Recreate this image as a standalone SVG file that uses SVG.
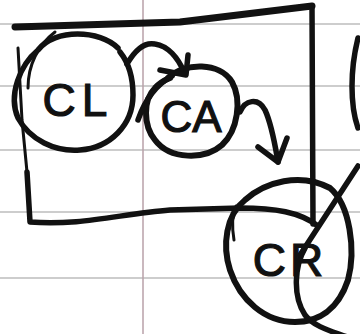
<svg xmlns="http://www.w3.org/2000/svg" width="360" height="334" viewBox="0 0 360 334">
<style>
.rule{stroke:#bdbdbd;stroke-width:1.5;fill:none}
.margin{stroke:#b8a0a8;stroke-width:1.5;fill:none}
.ink{stroke:#111;stroke-width:5.5;fill:none;stroke-linecap:round;stroke-linejoin:round}
.thin{stroke:#111;stroke-width:3;fill:none;stroke-linecap:round;stroke-linejoin:round}
.lbl{font-family:"Liberation Sans","DejaVu Sans",sans-serif;fill:#111;stroke:#111;stroke-width:1.2;text-anchor:middle}
</style>
<rect width="360" height="334" fill="#fff"/>
<g id="paper">
<line class="rule" x1="0" y1="24" x2="360" y2="24"/>
<line class="rule" x1="0" y1="86" x2="360" y2="86"/>
<line class="rule" x1="0" y1="150" x2="360" y2="150"/>
<line class="rule" x1="0" y1="212" x2="360" y2="212"/>
<line class="rule" x1="0" y1="278" x2="360" y2="278"/>
<line class="margin" x1="143" y1="0" x2="143" y2="334"/>
</g>
<g id="frame">
<path class="ink" d="M15,27 L180,22 L312,6" style="stroke-width:7"/>
<path class="ink" d="M312,6 L313,224"/>
<path class="thin" d="M18,48 L22,120 L27,172"/>
<path class="ink" d="M27,172 L30,222 C80,226 120,214 170,210 L240,208 C275,208 300,212 318,226"/>
<path class="ink" d="M358,38 C350,70 350,105 358,128"/>
</g>
<g id="CL">
<path class="ink" d="M118,48 C100,30 55,28 38,50 C20,65 8,95 18,118 C30,140 55,152 80,150 C110,148 133,125 133,95 C133,75 128,62 120,52"/>
<path class="thin" d="M55,32 C38,45 28,65 28,88"/>
<text class="lbl" x="78" y="116" font-size="46" letter-spacing="6">CL</text>
</g>
<g id="CA">
<path class="ink" d="M168,78 C185,62 220,62 232,82 C242,100 238,130 222,145 C205,160 170,160 155,140 C143,125 143,100 155,88 C160,82 165,80 170,78" style="stroke-width:6"/>
<path class="ink" d="M138,120 C145,100 155,85 172,76"/>
<text class="lbl" x="191" y="132" font-size="44">CA</text>
</g>
<g id="CR">
<path class="ink" d="M245,200 C265,182 300,172 330,188 C350,205 356,250 348,280 C338,310 318,322 295,322 C265,322 240,300 230,270 C222,245 226,215 245,200" style="stroke-width:6"/>
<path class="thin" d="M236,206 C232,215 232,228 234,240"/>
<path class="ink" d="M305,248 C295,265 292,295 305,315 C315,328 335,332 350,338"/>
<path class="ink" d="M358,166 L300,255"/>
<text class="lbl" x="290" y="276" font-size="46" letter-spacing="4">CR</text>
</g>
<g id="connectors">
<path class="ink" d="M127,64 C135,50 145,42 155,44 C168,46 178,58 184,72"/>
<path class="ink" d="M160,70 L186,75 L188,55"/>
<path class="ink" d="M240,112 C245,100 258,97 265,110 C272,125 275,145 278,162"/>
<path class="ink" d="M258,147 L278,162 L287,138"/>
</g>
</svg>
